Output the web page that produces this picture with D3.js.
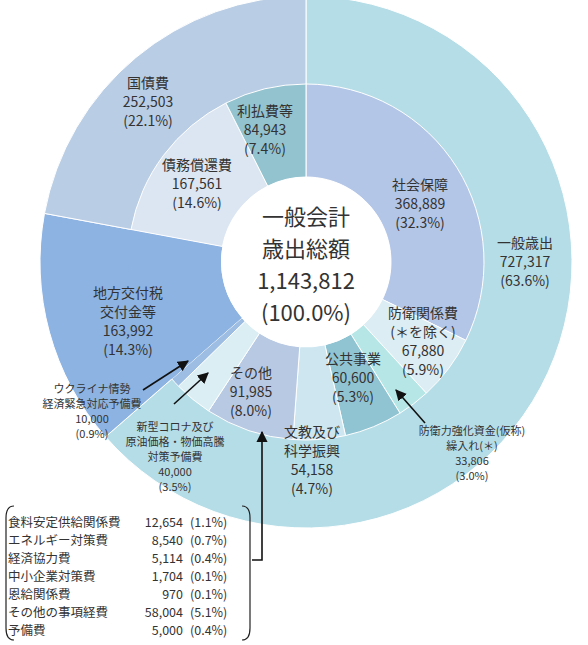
<!DOCTYPE html>
<html><head><meta charset="utf-8">
<script src="https://cdn.jsdelivr.net/npm/d3@7"></script>
<style>body{margin:0;background:#fff}text{font-family:"Noto Sans CJK JP","Noto Sans",sans-serif;fill:#333}</style>
</head><body><svg class="canvas" width="588" height="645"></svg>
<script>
// outer ring: major categories
const outerNames = ['一般歳出', '地方交付税交付金等', '国債費'];
const outerValues = [727317, 163992, 252503];
const outerColors = ['#b5dde7', '#8db3e2', '#b9cde5'];

// inner ring: breakdown (clockwise from top)
const innerNames = ['社会保障', '防衛関係費', '防衛力強化資金', '公共事業', '文教及び科学振興', 'その他', '新型コロナ', 'ウクライナ', '地方交付税', '債務償還費', '利払費等'];
const innerValues = [368889, 67880, 33806, 60600, 54158, 91985, 40000, 10000, 163992, 167561, 84943];
const innerColors = ['#b4c6e7', '#dcedf4', '#b6e6e6', '#91c4d3', '#cde6ef', '#b8c9e3', '#dbeef4', '#9dbde3', '#8db3e2', '#dce6f2', '#93c3cf'];

const otherNames = ['食料安定供給関係費', 'エネルギー対策費', '経済協力費', '中小企業対策費', '恩給関係費', 'その他の事項経費', '予備費'];
const otherValues = ['12,654', '8,540', '5,114', '1,704', '970', '58,004', '5,000'];
const otherPcts = ['(1.1%)', '(0.7%)', '(0.4%)', '(0.1%)', '(0.1%)', '(5.1%)', '(0.4%)'];

const svg = d3.select('.canvas');
const cx = 306, cy = 262;
const rHole = 85, rMid = 178, rOuter = 266;

const pie = d3.pie().sort(null).value((d) => d);

// outer ring drawn as full wedges from the hole outward
const g = svg.append('g').attr('transform', `translate(${cx},${cy})`);
g.selectAll('path.outer')
    .data(pie(outerValues))
    .enter()
    .append('path')
    .attr('d', d3.arc().innerRadius(rHole).outerRadius(rOuter))
    .attr('fill', (d, i) => outerColors[i])
    .attr('stroke', '#fff')
    .attr('stroke-width', 1);

g.selectAll('path.inner')
    .data(pie(innerValues))
    .enter()
    .append('path')
    .attr('d', d3.arc().innerRadius(rHole).outerRadius(rMid))
    .attr('fill', (d, i) => innerColors[i])
    .attr('stroke', (d, i) => (i === 8 ? 'none' : '#fff'))
    .attr('stroke-width', 1);

g.append('circle').attr('r', rHole).attr('fill', '#fff');

// labels
function label(lines, x, y, size, lh) {
    const t = svg.append('text').attr('text-anchor', 'middle').attr('font-size', size);
    lines.forEach((l, i) => t.append('tspan').attr('x', x).attr('y', y + i * lh).text(l));
}
label(['一般会計', '歳出総額', '1,143,812', '(100.0%)'], cx, 225, 22, 32);
label(['一般歳出', '727,317', '(63.6%)'], 525, 248, 14, 19);
label(['国債費', '252,503', '(22.1%)'], 148, 88, 14, 19);
label(['利払費等', '84,943', '(7.4%)'], 265, 116, 14, 19);
label(['債務償還費', '167,561', '(14.6%)'], 197, 170, 14, 19);
label(['社会保障', '368,889', '(32.3%)'], 420, 190, 14, 19);
label(['防衛関係費', '(＊を除く)', '67,880', '(5.9%)'], 423, 318, 14, 19);
label(['公共事業', '60,600', '(5.3%)'], 353, 364, 14, 19);
label(['その他', '91,985', '(8.0%)'], 251, 378, 14, 19);
label(['地方交付税', '交付金等', '163,992', '(14.3%)'], 128, 298, 14, 19);
label(['文教及び', '科学振興', '54,158', '(4.7%)'], 312, 437, 14, 19);
label(['ウクライナ情勢', '経済緊急対応予備費', '10,000', '(0.9%)'], 92, 393, 11, 15);
label(['新型コロナ及び', '原油価格・物価高騰', '対策予備費', '40,000', '(3.5%)'], 175, 431, 11, 15);
label(['防衛力強化資金(仮称)', '繰入れ(＊)', '33,806', '(3.0%)'], 472, 435, 11, 15);

// arrows
svg.append('defs').append('marker').attr('id', 'ah')
    .attr('viewBox', '0 0 10 10').attr('refX', 9).attr('refY', 5)
    .attr('markerWidth', 7).attr('markerHeight', 7).attr('orient', 'auto')
    .append('path').attr('d', 'M0,0L10,5L0,10z').attr('fill', '#111');
const arrow = (pts) => svg.append('path').attr('d', d3.line()(pts))
    .attr('fill', 'none').attr('stroke', '#111').attr('stroke-width', 1.6).attr('marker-end', 'url(#ah)');
arrow([[143, 390], [188, 361]]);
arrow([[174, 404], [208, 373]]);
arrow([[425, 423], [396, 390]]);
arrow([[252, 560], [262, 560], [262, 432]]);

// bracket box for "その他" breakdown
const bx0 = 6, bx1 = 250, by0 = 506, by1 = 640;
svg.append('path').attr('d', `M${bx0 + 8},${by0} Q${bx0},${by0} ${bx0},${by0 + 12} L${bx0},${by1 - 12} Q${bx0},${by1} ${bx0 + 8},${by1}`)
    .attr('fill', 'none').attr('stroke', '#222').attr('stroke-width', 1.2);
svg.append('path').attr('d', `M${bx1 - 8},${by0} Q${bx1},${by0} ${bx1},${by0 + 12} L${bx1},${by1 - 12} Q${bx1},${by1} ${bx1 - 8},${by1}`)
    .attr('fill', 'none').attr('stroke', '#222').attr('stroke-width', 1.2);

const y = d3.scaleBand().domain(otherNames).range([514, 640]);
otherNames.forEach((n, i) => {
    const yy = y(n) + 13;
    svg.append('text').attr('x', 8).attr('y', yy).attr('font-size', 12.5).text(n);
    svg.append('text').attr('x', 183).attr('y', yy).attr('font-size', 12.5).attr('text-anchor', 'end').text(otherValues[i]);
    svg.append('text').attr('x', 190).attr('y', yy).attr('font-size', 12.5).text(otherPcts[i]);
});
</script></body></html>
